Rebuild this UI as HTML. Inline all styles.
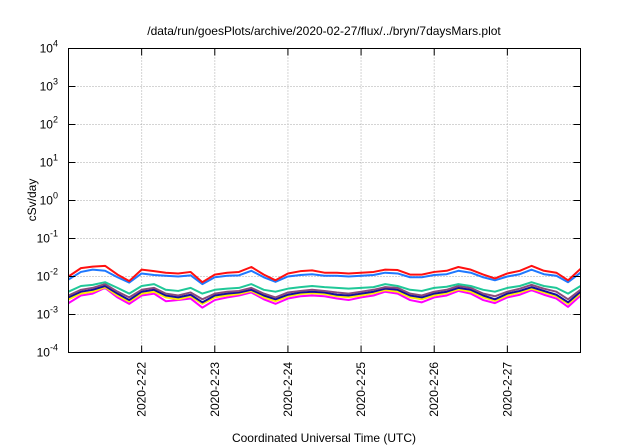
<!DOCTYPE html>
<html><head><meta charset="utf-8"><style>
body{margin:0;background:#fff;}
svg{display:block;font-family:"Liberation Sans",sans-serif;}
</style></head><body>
<svg id="chart" width="640" height="448">
<text x="324" y="35" font-size="12" text-anchor="middle">/data/run/goesPlots/archive/2020-02-27/flux/../bryn/7daysMars.plot</text>
<text x="324" y="442" font-size="12" text-anchor="middle">Coordinated Universal Time (UTC)</text>
<text transform="translate(36,200) rotate(-90)" font-size="12" text-anchor="middle">cSv/day</text>
<g id="grid"></g>
<g id="series"></g>
<g id="axes"></g>
</svg>
<script>
const xTickLabels=["2020-2-22","2020-2-23","2020-2-24","2020-2-25","2020-2-26","2020-2-27"];
const xTickDays=[22,23,24,25,26,27];
const yTickExps=[-4,-3,-2,-1,0,1,2,3,4];
const times=[21,21.17,21.33,21.5,21.67,21.83,22,22.17,22.33,22.5,22.67,22.83,23,23.17,23.33,23.5,23.67,23.83,24,24.17,24.33,24.5,24.67,24.83,25,25.17,25.33,25.5,25.67,25.83,26,26.17,26.33,26.5,26.67,26.83,27,27.17,27.33,27.5,27.67,27.83,28];
const redLog=[-2.0,-1.78,-1.74,-1.72,-1.95,-2.12,-1.82,-1.86,-1.9,-1.92,-1.88,-2.15,-1.95,-1.9,-1.88,-1.75,-1.95,-2.1,-1.92,-1.86,-1.84,-1.9,-1.9,-1.92,-1.9,-1.88,-1.82,-1.83,-1.95,-1.95,-1.88,-1.85,-1.75,-1.82,-1.95,-2.05,-1.92,-1.85,-1.72,-1.85,-1.9,-2.1,-1.8];
const blueLog=[-2.08,-1.88,-1.82,-1.85,-2.02,-2.16,-1.92,-1.96,-1.98,-2.0,-1.97,-2.2,-2.02,-1.98,-1.97,-1.85,-2.02,-2.14,-2.0,-1.96,-1.94,-1.98,-1.98,-2.0,-1.98,-1.96,-1.9,-1.92,-2.02,-2.02,-1.96,-1.94,-1.85,-1.9,-2.02,-2.1,-2.0,-1.94,-1.82,-1.94,-1.98,-2.15,-1.9];
const greenLog=[-2.4,-2.25,-2.22,-2.15,-2.3,-2.45,-2.25,-2.2,-2.35,-2.38,-2.3,-2.45,-2.35,-2.32,-2.3,-2.2,-2.35,-2.4,-2.32,-2.28,-2.25,-2.28,-2.3,-2.32,-2.3,-2.28,-2.2,-2.25,-2.35,-2.38,-2.3,-2.27,-2.2,-2.25,-2.35,-2.4,-2.3,-2.25,-2.15,-2.25,-2.3,-2.45,-2.25];
const purpleLog=[-2.5,-2.35,-2.3,-2.2,-2.4,-2.55,-2.35,-2.3,-2.45,-2.5,-2.42,-2.6,-2.45,-2.4,-2.38,-2.3,-2.45,-2.55,-2.42,-2.38,-2.35,-2.38,-2.42,-2.45,-2.4,-2.35,-2.28,-2.3,-2.45,-2.5,-2.4,-2.35,-2.25,-2.3,-2.45,-2.52,-2.4,-2.32,-2.22,-2.32,-2.4,-2.6,-2.35];
const navyLog=[-2.55,-2.4,-2.35,-2.25,-2.45,-2.62,-2.4,-2.35,-2.5,-2.55,-2.48,-2.68,-2.5,-2.45,-2.42,-2.35,-2.5,-2.6,-2.48,-2.42,-2.4,-2.42,-2.48,-2.5,-2.45,-2.4,-2.32,-2.35,-2.5,-2.55,-2.45,-2.4,-2.3,-2.35,-2.5,-2.6,-2.45,-2.38,-2.28,-2.38,-2.48,-2.68,-2.4];
const yellowLog=[-2.6,-2.45,-2.4,-2.28,-2.5,-2.66,-2.45,-2.4,-2.55,-2.6,-2.52,-2.72,-2.55,-2.5,-2.46,-2.38,-2.55,-2.65,-2.52,-2.46,-2.44,-2.46,-2.52,-2.55,-2.5,-2.44,-2.36,-2.4,-2.55,-2.6,-2.5,-2.44,-2.34,-2.4,-2.55,-2.64,-2.5,-2.42,-2.32,-2.42,-2.52,-2.72,-2.45];
const magentaLog=[-2.7,-2.5,-2.45,-2.3,-2.55,-2.72,-2.5,-2.45,-2.65,-2.62,-2.58,-2.82,-2.62,-2.55,-2.5,-2.42,-2.6,-2.72,-2.58,-2.52,-2.5,-2.52,-2.58,-2.62,-2.55,-2.5,-2.4,-2.45,-2.62,-2.68,-2.55,-2.5,-2.38,-2.45,-2.62,-2.7,-2.55,-2.48,-2.36,-2.48,-2.58,-2.8,-2.5];
const L=68.5,R=580.5,T=48.5,B=352.5,X0=21,X1=28,YMIN=-4,YMAX=4;
const xs=d=>L+(d-X0)/(X1-X0)*(R-L);
const ys=e=>B-(e-YMIN)/(YMAX-YMIN)*(B-T);
const NS="http://www.w3.org/2000/svg";
function mk(tag,attrs,parent){const el=document.createElementNS(NS,tag);for(const k in attrs)el.setAttribute(k,attrs[k]);parent.appendChild(el);return el;}
const grid=document.getElementById('grid'),axes=document.getElementById('axes'),ser=document.getElementById('series');
yTickExps.forEach(e=>{const y=ys(e);
 if(e>YMIN&&e<YMAX){const g=mk('line',{x1:L,x2:R,y1:y,y2:y,stroke:'#aaa','stroke-dasharray':'1,2','stroke-width':1},grid);
 }
 const t1=mk('line',{x1:L,x2:L+7,y1:y,y2:y,stroke:'#000'},axes);
 const t2=mk('line',{x1:R-7,x2:R,y1:y,y2:y,stroke:'#000'},axes);
 const tx=mk('text',{x:58,y:y+4,'font-size':12,'text-anchor':'end'},axes);
 
 tx.appendChild(document.createTextNode('10'));
 const sp=mk('tspan',{dy:-6,'font-size':9},tx);sp.textContent=String(e);
});
xTickDays.forEach((d,i)=>{const x=xs(d);
 const g=mk('line',{x1:x,x2:x,y1:T,y2:B,stroke:'#aaa','stroke-dasharray':'1,2'},grid);
 
 const t1=mk('line',{x1:x,x2:x,y1:B-7,y2:B,stroke:'#000'},axes);
 const t2=mk('line',{x1:x,x2:x,y1:T,y2:T+7,stroke:'#000'},axes);
 const tx=mk('text',{transform:`translate(${x+4},362) rotate(-90)`,'font-size':12,'text-anchor':'end'},axes);
 
 tx.textContent=xTickLabels[i];
});
const fr=mk('rect',{x:L,y:T,width:R-L,height:B-T,fill:'none',stroke:'#000','stroke-width':1},axes);

const seriesList=[[magentaLog,'#ff00ff','magenta'],[yellowLog,'#ffee00','yellow'],[navyLog,'#1010a0','navy'],[purpleLog,'#8a4a7a','purple'],[greenLog,'#20c898','green'],[blueLog,'#1e78ff','blue'],[redLog,'#ff1010','red']];
seriesList.forEach(([arr,c,n])=>{
 const p=mk('polyline',{points:arr.map((v,i)=>xs(times[i])+','+ys(v)).join(' '),fill:'none',stroke:c,'stroke-width':2,'stroke-linejoin':'round'},ser);
 
});
</script>
</body></html>
